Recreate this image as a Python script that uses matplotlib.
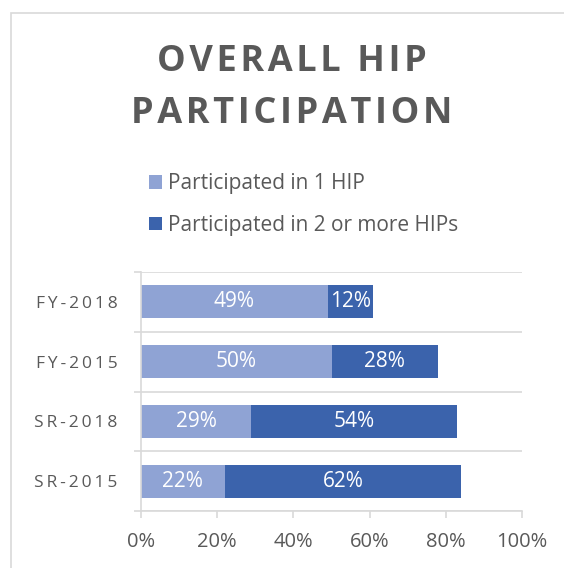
import numpy as np
import matplotlib.pyplot as plt
from matplotlib.patches import Rectangle

# datos (de abajo hacia arriba, como en el grafico original)
categorias = ["SR-2015", "SR-2018", "FY-2015", "FY-2018"]
una_hip = [22, 29, 50, 49]
dos_o_mas = [62, 54, 28, 12]
ticks_x = [0, 20, 40, 60, 80, 100]
serie_1 = "Participated in 1 HIP"
serie_2 = "Participated in 2 or more HIPs"

plt.rcParams['font.family'] = ['Open Sans', 'DejaVu Sans']

gris = "#595959"
c_claro = "#8FA3D4"
c_oscuro = "#3B63AC"
linea = "#D9D9D9"

def espaciar(s, sep="\u2009"):  # separacion de letras tipo Excel
    return sep.join(s)

fig = plt.figure(figsize=(5.64, 5.68), dpi=100)
ax = fig.add_axes([141/564, 1 - 511/568, 381/564, 239/568])

# marco del grafico
fig.patches.append(Rectangle((10.5/564, -0.1), 1.2, 1 - 12.5/568 + 0.1,
                             transform=fig.transFigure, fill=False,
                             edgecolor=linea, lw=1.2))

y = np.arange(len(categorias))
b1 = ax.barh(y, una_hip, height=0.55, color=c_claro, label=serie_1)
b2 = ax.barh(y, dos_o_mas, left=una_hip, height=0.55, color=c_oscuro, label=serie_2)

for i in range(len(categorias)):
    ax.text(una_hip[i] / 2, y[i], f"{una_hip[i]}%", ha="center", va="center",
            color="white", fontsize=15)
    ax.text(una_hip[i] + dos_o_mas[i] / 2, y[i], f"{dos_o_mas[i]}%", ha="center",
            va="center", color="white", fontsize=15)

ax.set_xlim(0, 100)
ax.set_ylim(-0.5, 3.5)
ax.set_xticks(ticks_x)
ax.set_xticklabels([f"{t}%" for t in ticks_x], color=gris, fontsize=14.5)
ax.set_yticks(y)
ax.set_yticklabels([espaciar(c) for c in categorias], color=gris, fontsize=12.5)
ax.set_yticks(np.arange(-0.5, 4, 1), minor=True)
ax.tick_params(axis="y", which="major", length=0, pad=17)
ax.tick_params(axis="y", which="minor", length=5, color=linea, width=1.2)
ax.tick_params(axis="x", length=5, color=linea, width=1.2, pad=10)
ax.grid(axis="y", which="minor", color=linea, lw=1.2)
ax.set_axisbelow(True)
for s in ["top", "right"]:
    ax.spines[s].set_visible(False)
for s in ["left", "bottom"]:
    ax.spines[s].set_color(linea)
    ax.spines[s].set_linewidth(1.2)

fig.text(292/564, 1 - 88/568,
         espaciar("OVERALL HIP", "\u200a") + "\n" + espaciar("PARTICIPATION", "\u200a"),
         ha="center", va="center", fontsize=26, fontweight="bold", color=gris,
         linespacing=1.6)

fig.legend(handles=[b1, b2], loc="upper left", bbox_to_anchor=(141/564, 1 - 165/568),
           frameon=False, fontsize=15, labelcolor=gris, handlelength=0.6,
           handleheight=0.6, handletextpad=0.3, labelspacing=1.0, borderaxespad=0)

fig.savefig("out.png", dpi=100)
